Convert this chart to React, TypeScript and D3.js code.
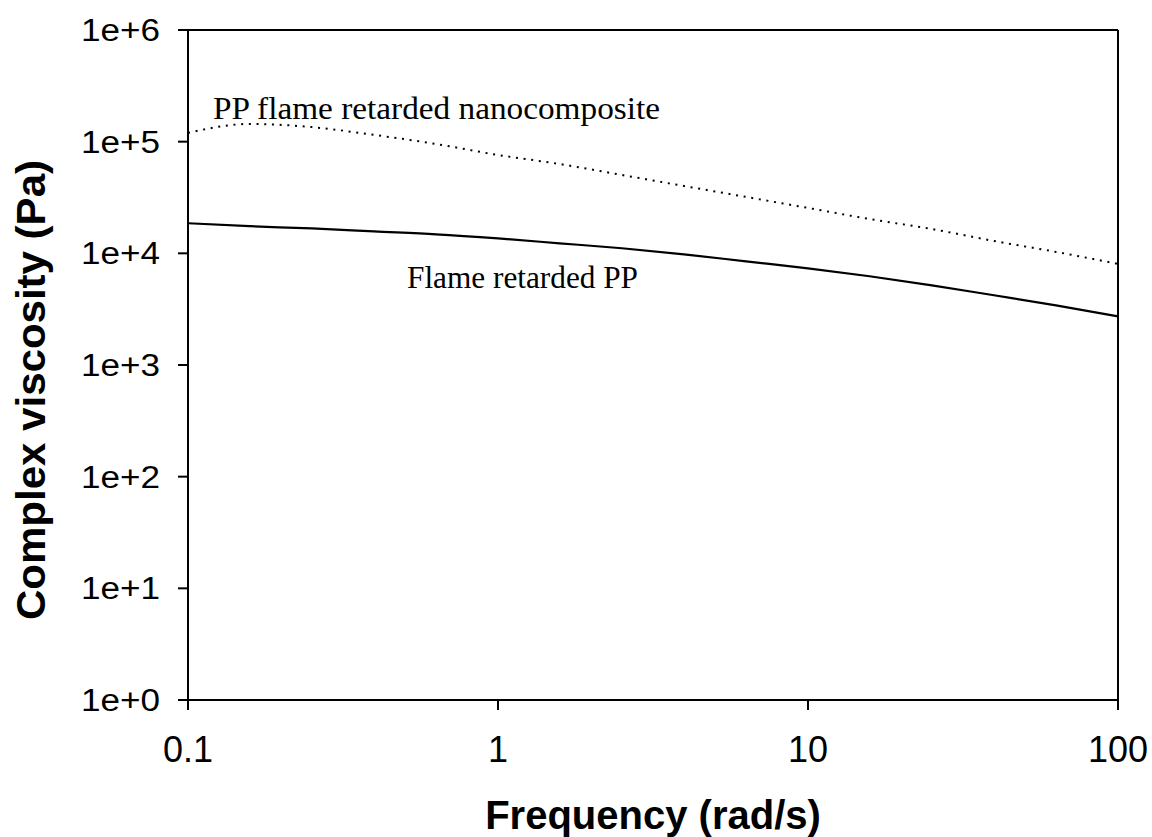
import * as d3 from "d3";

const W = 1152;
const H = 837;
const M = { left: 188, right: 34, top: 30, bottom: 137 };

const frequency = [0.1, 0.158, 0.251, 0.398, 0.631, 1, 1.58, 2.51, 3.98, 6.31, 10, 15.8, 25.1, 39.8, 63.1, 100];
const nanocomposite = [120000, 144000, 135000, 115000, 95300, 76000, 63100, 50300, 40100, 32000, 25500, 20300, 16500, 12900, 10300, 8040];
const flameRetardedPP = [18600, 17500, 16700, 15700, 14800, 13600, 12300, 11100, 9800, 8470, 7340, 6230, 5170, 4210, 3420, 2730];

const xTicks = [0.1, 1, 10, 100];
const xTickLabels = ["0.1", "1", "10", "100"];
const yTicks = [1, 10, 100, 1000, 10000, 100000, 1000000];
const yTickLabels = ["1e+0", "1e+1", "1e+2", "1e+3", "1e+4", "1e+5", "1e+6"];

const sans = "'Liberation Sans', Arial, sans-serif";
const serif = "'Liberation Serif', 'Times New Roman', serif";

export default function App() {
  const x = d3.scaleLog().domain([0.1, 100]).range([M.left, W - M.right]);
  const y = d3.scaleLog().domain([1, 1e6]).range([H - M.bottom, M.top]);

  const line = d3
    .line<number>()
    .x((_, i) => x(frequency[i]))
    .y((d) => y(d))
    .curve(d3.curveMonotoneX);

  const [x0, x1] = x.range();
  const [y0, y1] = y.range();

  return (
    <svg
      width={W}
      height={H}
      style={{ position: "absolute", left: 0, top: 0, background: "#fff" }}
    >
      {/* frame */}
      <g stroke="#000" strokeWidth={2} fill="none">
        <line x1={x0} x2={x0} y1={y1} y2={y0} />
        <line x1={x0} x2={x1} y1={y0} y2={y0} />
        <line x1={x0} x2={x1} y1={y1} y2={y1} />
        <line x1={x1} x2={x1} y1={y1} y2={y0} />
      </g>

      {/* y axis */}
      {yTicks.map((t, i) => (
        <g key={t}>
          <line x1={x0 - 10} x2={x0} y1={y(t)} y2={y(t)} stroke="#000" strokeWidth={2} />
          <text
            x={x0 - 28}
            y={y(t) + 11}
            textAnchor="end"
            fontFamily={sans}
            fontSize={31}
            textLength={79}
            lengthAdjust="spacingAndGlyphs"
          >
            {yTickLabels[i]}
          </text>
        </g>
      ))}

      {/* x axis */}
      {xTicks.map((t, i) => (
        <g key={t}>
          <line x1={x(t)} x2={x(t)} y1={y0} y2={y0 + 10} stroke="#000" strokeWidth={2} />
          <text x={x(t)} y={762} textAnchor="middle" fontFamily={sans} fontSize={36}>
            {xTickLabels[i]}
          </text>
        </g>
      ))}

      {/* series */}
      <path d={line(flameRetardedPP) ?? ""} fill="none" stroke="#000" strokeWidth={2.2} />
      <path
        d={line(nanocomposite) ?? ""}
        fill="none"
        stroke="#000"
        strokeWidth={2}
        strokeDasharray="2,5.7"
      />

      {/* annotations */}
      <text
        x={213}
        y={119}
        fontFamily={serif}
        fontSize={32}
        textLength={447}
        lengthAdjust="spacingAndGlyphs"
      >
        PP flame retarded nanocomposite
      </text>
      <text
        x={407}
        y={288}
        fontFamily={serif}
        fontSize={32}
        textLength={231}
        lengthAdjust="spacingAndGlyphs"
      >
        Flame retarded PP
      </text>

      {/* axis titles */}
      <text
        x={(x0 + x1) / 2}
        y={829}
        textAnchor="middle"
        fontFamily={sans}
        fontWeight="bold"
        fontSize={40}
      >
        Frequency (rad/s)
      </text>
      <text
        transform={`translate(45,390) rotate(-90)`}
        textAnchor="middle"
        fontFamily={sans}
        fontWeight="bold"
        fontSize={40}
        textLength={460}
        lengthAdjust="spacingAndGlyphs"
      >
        Complex viscosity (Pa)
      </text>
    </svg>
  );
}
